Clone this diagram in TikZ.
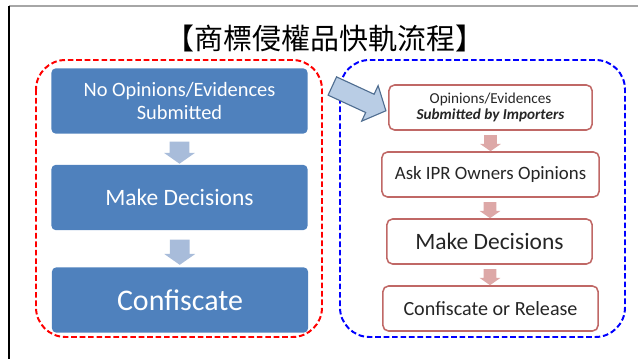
\documentclass[tikz,border=0pt]{standalone}
\usepackage{fontspec}
\setmainfont{Carlito}
\newfontfamily\cjkfont{Noto Sans CJK TC}
\usetikzlibrary{shapes.arrows, calc}

\definecolor{boxblue}{RGB}{79,129,189}
\definecolor{stepblue}{RGB}{168,188,218}
\definecolor{jumpfill}{RGB}{185,205,229}
\definecolor{jumpedge}{RGB}{80,110,145}
\definecolor{boxrose}{RGB}{192,104,102}
\definecolor{steprose}{RGB}{221,168,167}

\begin{document}
\begin{tikzpicture}[x=0.025cm, y=-0.025cm,
  bluebox/.style={fill=boxblue, text=white, rounded corners=3pt,
    minimum width=6.4cm, minimum height=1.63cm, align=center, inner sep=0pt},
  rosebox/.style={draw=boxrose, line width=1.1pt, fill=white, rounded corners=4pt,
    minimum height=1.125cm, align=center, inner sep=0pt, text=black!85},
  bluestep/.style={single arrow, fill=stepblue, rotate=-90, inner xsep=0pt,
    inner ysep=0.24cm, single arrow head extend=0.14cm,
    single arrow tip angle=110, minimum width=0pt, minimum height=#1},
  bluestep/.default=0.55cm,
  rosestep/.style={single arrow, fill=steprose, rotate=-90, inner xsep=0pt,
    inner ysep=0.15cm, single arrow head extend=0.1cm,
    single arrow tip angle=110, minimum width=0pt, minimum height=0.4cm},
  group/.style={dashed, dash pattern=on 4pt off 2pt, line width=1.4pt,
    rounded corners=21pt}
  ]

\useasboundingbox (0,0) rectangle (638,359);

% Frame
\draw[gray!70, line width=1.4pt] (9,6) -- (638,6);
\draw[black, line width=0.8pt] (9,6) -- (9,359);

% Title
\node[font=\cjkfont\fontsize{20.6}{24}\selectfont] (title) at (325,38) {【商標侵權品快軌流程】};

% --- Left group: no opinions ---
\draw[group, red] (36,60) rectangle (322,337);

\node[bluebox, font=\fontsize{14.5}{15.8}\selectfont] (nosub) at (179.5,101)
  {No Opinions/Evidences\\Submitted};
\node[bluebox, font=\fontsize{16.7}{18}\selectfont] (decide) at (179.5,197.5)
  {Make Decisions};
\node[bluebox, font=\fontsize{21.3}{23}\selectfont] (confiscate) at (180,300)
  {Confiscate};

\node[bluestep] (s1) at ($(nosub.south)!0.5!(decide.north)$) {};
\node[bluestep=0.63cm] (s2) at ($(decide.south)!0.5!(confiscate.north)$) {};

% --- Right group: opinions submitted ---
\draw[group, blue] (340,60) rectangle (625,337);

\node[rosebox, minimum width=5.08cm, font=\fontsize{10.8}{11.6}\selectfont] (opsub) at (490.5,107.5)
  {Opinions/Evidences\\\textbf{\textit{Submitted by Importers}}};
\node[rosebox, minimum width=5.43cm, font=\fontsize{13.4}{15}\selectfont] (askipr) at (490.5,174.5)
  {Ask IPR Owners Opinions};
\node[rosebox, minimum width=5.13cm, font=\fontsize{16.7}{18}\selectfont] (decide2) at (489.5,241.5)
  {Make Decisions};
\node[rosebox, minimum width=5.38cm, font=\fontsize{14.3}{16}\selectfont] (release) at (490.5,308.5)
  {Confiscate or Release};

\node[rosestep] (t1) at ($(opsub.south)!0.5!(askipr.north)$) {};
\node[rosestep] (t2) at ($(askipr.south)!0.5!(decide2.north)$) {};
\node[rosestep] (t3) at ($(decide2.south)!0.5!(release.north)$) {};

% Jump arrow between the groups
\node[single arrow, fill=jumpfill, draw=jumpedge, line width=0.8pt, rotate=-24.8,
  inner xsep=0pt, inner ysep=0.2375cm, single arrow head extend=0.2375cm,
  single arrow tip angle=96, minimum width=0pt, minimum height=1.475cm]
  (jump) at (355,96.5) {};

\end{tikzpicture}
\end{document}
